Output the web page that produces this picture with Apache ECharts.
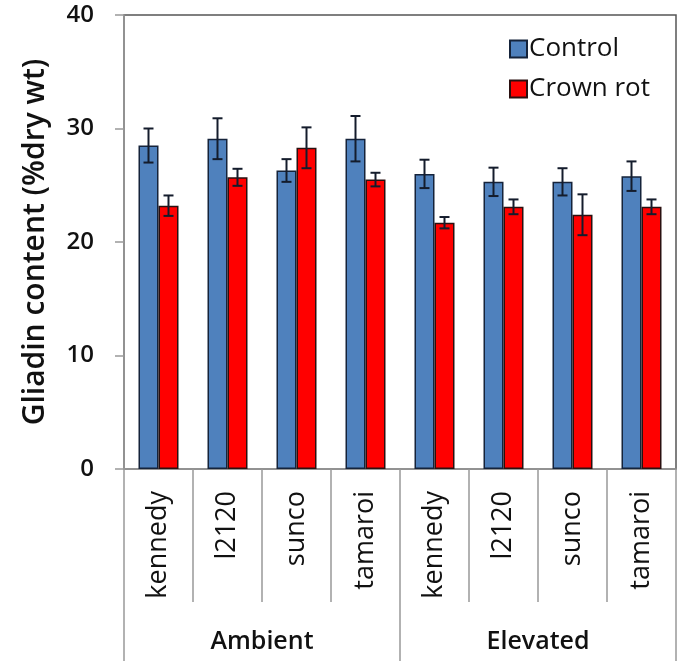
<!DOCTYPE html>
<html>
<head>
<meta charset="utf-8">
<script src="https://cdn.jsdelivr.net/npm/echarts@6/dist/echarts.min.js"></script>
<style>
  html, body { margin: 0; padding: 0; background: #fff; }
  #main { width: 681px; height: 661px; }
</style>
</head>
<body>
<div id="main"></div>
<script>
// gliadin bar chart with error bars
var cultivars = ['kennedy', 'l2120', 'sunco', 'tamaroi', 'kennedy', 'l2120', 'sunco', 'tamaroi'];
var co2Groups = ['Ambient', 'Elevated'];
var controlVals = [28.5, 29.1, 26.3, 29.1, 26.0, 25.3, 25.3, 25.8];
var controlErr = [1.5, 1.8, 1.0, 2.0, 1.25, 1.25, 1.2, 1.3];
var crownVals = [23.2, 25.7, 28.3, 25.5, 21.7, 23.1, 22.4, 23.1];
var crownErr = [0.9, 0.75, 1.8, 0.6, 0.5, 0.65, 1.8, 0.65];
var yTicks = [0, 10, 20, 30, 40];

var font = '"Open Sans", sans-serif';
var barW = 20;

function errData(vals, errs) {
    return vals.map(function (v, i) { return [i, v - errs[i], v + errs[i]]; });
}

function errRender(shift) {
    return function (params, api) {
        var lo = api.coord([api.value(0), api.value(1)]);
        var hi = api.coord([api.value(0), api.value(2)]);
        var x = lo[0] + shift;
        var cap = 5;
        var st = { stroke: '#141c2c', lineWidth: 2 };
        return {
            type: 'group',
            children: [
                { type: 'line', shape: { x1: x, y1: hi[1], x2: x, y2: lo[1] }, style: st },
                { type: 'line', shape: { x1: x - cap, y1: hi[1], x2: x + cap, y2: hi[1] }, style: st },
                { type: 'line', shape: { x1: x - cap, y1: lo[1], x2: x + cap, y2: lo[1] }, style: st }
            ]
        };
    };
}

var myChart = echarts.init(document.getElementById('main'));
var option = {
    animation: false,
    textStyle: { fontFamily: font },
    grid: {
        left: 124, right: 5, top: 15, bottom: 192,
        show: true, borderColor: '#555', borderWidth: 1.5
    },
    legend: {
        orient: 'vertical',
        left: 504, top: 31,
        itemWidth: 17, itemHeight: 17, itemGap: 14,
        icon: 'rect',
        textStyle: { fontFamily: font, fontSize: 26, color: '#111', padding: [0, 0, 0, -3] },
        data: ['Control', 'Crown rot']
    },
    xAxis: [{
        type: 'category',
        data: cultivars,
        axisLine: { lineStyle: { color: '#999', width: 1.5 } },
        axisTick: { show: true, interval: 0, length: 133, lineStyle: { color: '#999', width: 1.5 } },
        axisLabel: {
            interval: 0, rotate: 90, margin: 22,
            fontFamily: font, fontSize: 27, color: '#111'
        }
    }, {
        type: 'category',
        data: co2Groups,
        position: 'bottom',
        axisLine: { show: false },
        axisTick: { show: true, interval: 0, length: 192, lineStyle: { color: '#999', width: 1.5 } },
        axisLabel: {
            interval: 0, margin: 160,
            fontFamily: font, fontSize: 25, fontWeight: 600, color: '#111'
        }
    }],
    yAxis: {
        type: 'value',
        min: yTicks[0], max: yTicks[yTicks.length - 1], interval: 10,
        name: 'Gliadin content (%dry wt)',
        nameLocation: 'middle',
        nameGap: 74,
        nameTextStyle: { fontFamily: font, fontSize: 30, fontWeight: 600, color: '#111' },
        splitLine: { show: false },
        axisLine: { show: true, lineStyle: { color: '#999', width: 1.5 } },
        axisTick: { show: true, length: 9, lineStyle: { color: '#999', width: 1.5 } },
        axisLabel: { margin: 30, fontFamily: font, fontSize: 24, fontWeight: 600, color: '#111' }
    },
    series: [{
        name: 'Control',
        type: 'bar',
        barWidth: barW,
        barGap: '0%',
        data: controlVals,
        itemStyle: { color: '#4f81bd', borderColor: '#15233a', borderWidth: 1.5 }
    }, {
        name: 'Crown rot',
        type: 'bar',
        barWidth: barW,
        barGap: '0%',
        data: crownVals,
        itemStyle: { color: '#ff0000', borderColor: '#2a1010', borderWidth: 1.5 }
    }, {
        type: 'custom',
        renderItem: errRender(-barW / 2),
        data: errData(controlVals, controlErr),
        encode: { x: 0, y: [1, 2] },
        z: 10
    }, {
        type: 'custom',
        renderItem: errRender(barW / 2),
        data: errData(crownVals, crownErr),
        encode: { x: 0, y: [1, 2] },
        z: 10
    }]
};
myChart.setOption(option);
</script>
</body>
</html>
